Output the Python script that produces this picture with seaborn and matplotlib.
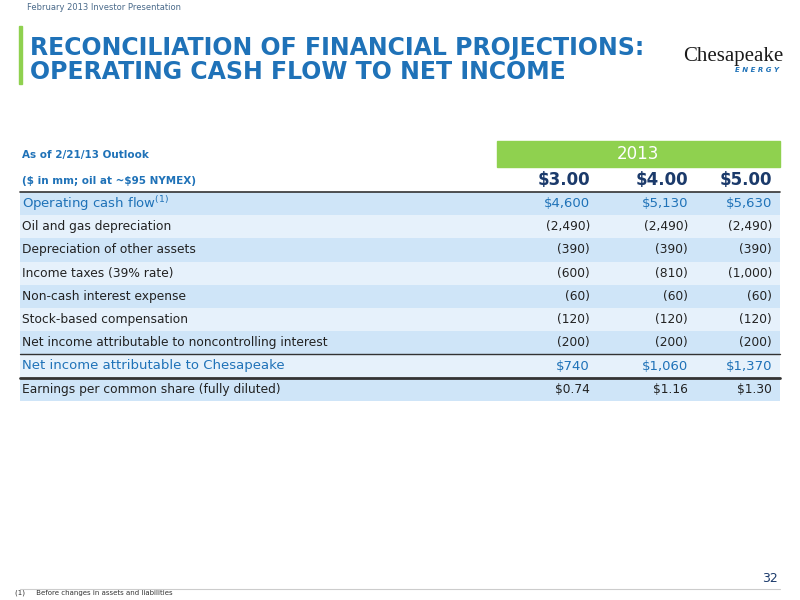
import matplotlib
matplotlib.use("Agg")
import matplotlib.pyplot as plt
import seaborn as sns

sns.set_theme(style="white")
plt.rcParams["font.family"] = ["DejaVu Sans"]

# table data
price_cols = ["\\$3.00", "\\$4.00", "\\$5.00"]
row_labels = [
    "Operating cash flow$^{(1)}$",
    "Oil and gas depreciation",
    "Depreciation of other assets",
    "Income taxes (39% rate)",
    "Non-cash interest expense",
    "Stock-based compensation",
    "Net income attributable to noncontrolling interest",
    "Net income attributable to Chesapeake",
    "Earnings per common share (fully diluted)",
]
col_300 = ["$4,600", "(2,490)", "(390)", "(600)", "(60)", "(120)", "(200)", "$740", "$0.74"]
col_400 = ["$5,130", "(2,490)", "(390)", "(810)", "(60)", "(120)", "(200)", "$1,060", "$1.16"]
col_500 = ["$5,630", "(2,490)", "(390)", "(1,000)", "(60)", "(120)", "(200)", "$1,370", "$1.30"]
highlight_rows = [0, 7]

BLUE = "#1f72b8"
DARK = "#1b3a6b"
GREEN = "#8fd14f"
BG_DARK = "#cfe5f8"
BG_LIGHT = "#e6f1fb"

fig = plt.figure(figsize=(8, 6), dpi=100)
ax = fig.add_axes([0, 0, 1, 1])
ax.set_xlim(0, 800)
ax.set_ylim(600, 0)
ax.axis("off")

# header
ax.text(27, 7, "February 2013 Investor Presentation", fontsize=6, color="#4a6a8a", va="center")
ax.add_patch(plt.Rectangle((19, 26), 3, 58, color=GREEN))
ax.text(30, 48, "RECONCILIATION OF FINANCIAL PROJECTIONS:", fontsize=17, color=BLUE,
        fontweight="bold", va="center")
ax.text(30, 72, "OPERATING CASH FLOW TO NET INCOME", fontsize=17, color=BLUE,
        fontweight="bold", va="center")
ax.text(733, 57, "Chesapeake", fontsize=15, color="#1a1a1a", ha="center", va="center",
        family="Liberation Serif")
ax.text(757, 70, "E N E R G Y", fontsize=5, color=BLUE, ha="center", va="center", style="italic",
        fontweight="bold")

# table headers
ax.text(22, 155, "As of 2/21/13 Outlook", fontsize=7.5, color=BLUE, fontweight="bold", va="center")
ax.text(22, 181, "(\\$ in mm; oil at ~\\$95 NYMEX)", fontsize=7.5, color=BLUE, fontweight="bold", va="center")
ax.add_patch(plt.Rectangle((497, 141), 283, 26, color=GREEN))
ax.text(638, 154, "2013", fontsize=12, color="white", ha="center", va="center")
col_x = [590, 688, 772]
for x, c in zip(col_x, price_cols):
    ax.text(x, 180, c, fontsize=12, color=DARK, fontweight="bold", ha="right", va="center")

top = 192
h = 23.2
cols = [col_300, col_400, col_500]
for i, lab in enumerate(row_labels):
    y0 = top + i * h
    ax.add_patch(plt.Rectangle((20, y0), 760, h, color=BG_DARK if i % 2 == 0 else BG_LIGHT, lw=0))
    hl = i in highlight_rows
    color = BLUE if hl else "#222222"
    fs = 9.5 if hl else 8.8
    ax.text(22, y0 + h / 2, lab, fontsize=fs, color=color, va="center")
    for x, col in zip(col_x, cols):
        ax.text(x, y0 + h / 2, col[i], fontsize=fs, color=color, ha="right", va="center")

ax.plot([20, 780], [top, top], color="#333333", lw=1.2)
ax.plot([20, 780], [top + 7 * h, top + 7 * h], color="#333333", lw=1)
ax.plot([20, 780], [top + 8 * h, top + 8 * h], color="#333333", lw=2)

ax.text(778, 578, "32", fontsize=9, color=DARK, ha="right", va="center")
ax.plot([20, 780], [589, 589], color="#cccccc", lw=0.8)
ax.text(15, 593, "(1)     Before changes in assets and liabilities", fontsize=5, color="#333333", va="center")

fig.savefig("out.png", dpi=100)
